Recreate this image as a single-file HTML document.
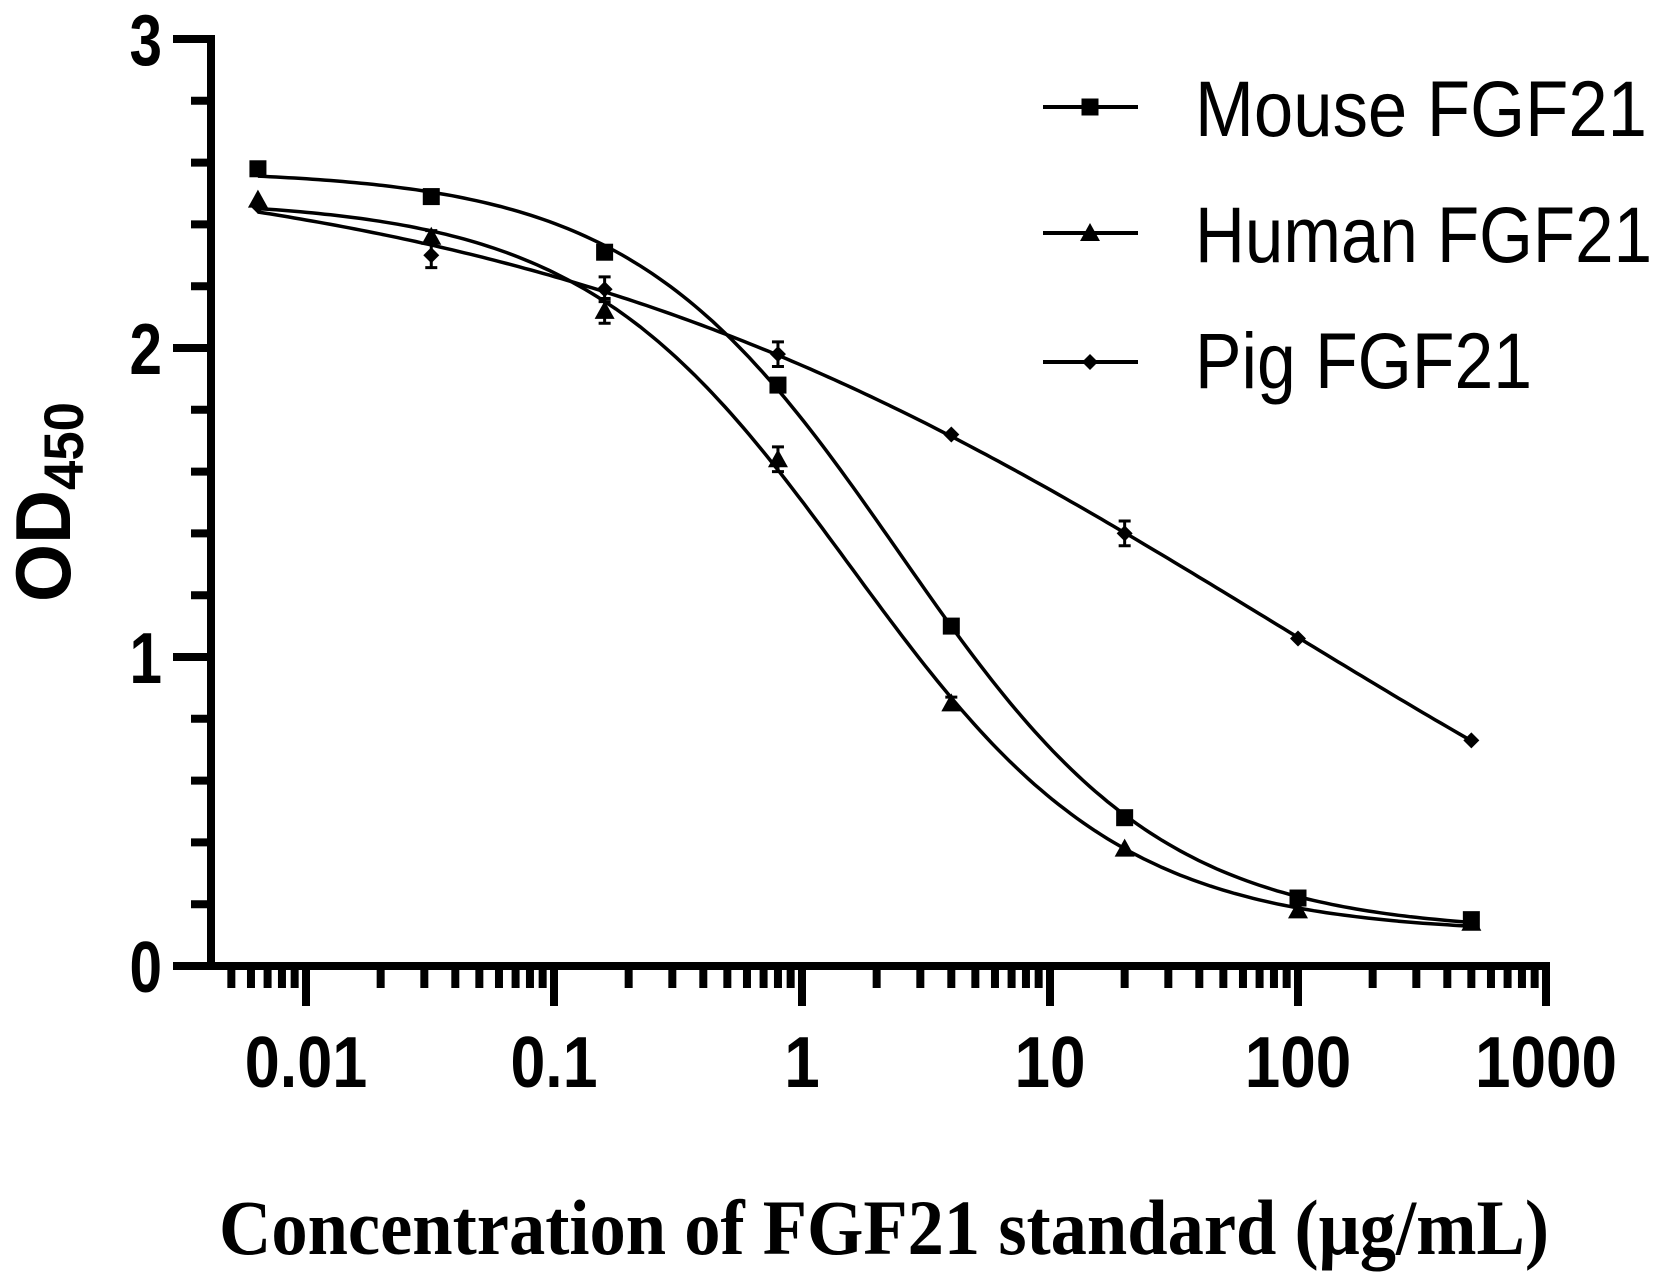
<!DOCTYPE html>
<html><head><meta charset="utf-8"><style>
html,body{margin:0;padding:0;background:#fff}
svg{display:block}
</style></head><body>
<svg id="chart" width="1672" height="1286" viewBox="0 0 1672 1286" xmlns="http://www.w3.org/2000/svg" font-family="'Liberation Sans', sans-serif">
<g id="axes"></g>
<g id="series"></g>
<g id="legend"></g>
</svg>
<script>
const concentrations = [0.0064, 0.032, 0.16, 0.8, 4, 20, 100, 500];
const mouseOD = [2.58, 2.49, 2.31, 1.88, 1.10, 0.48, 0.22, 0.15];
const humanOD = [2.48, 2.36, 2.12, 1.64, 0.85, 0.38, 0.18, 0.14];
const pigOD = [2.46, 2.30, 2.19, 1.98, 1.72, 1.40, 1.06, 0.73];
const mouseErr = [0.01, 0.02, 0.02, 0.02, 0.02, 0.02, 0.01, 0.01];
const humanErr = [0.01, 0.02, 0.04, 0.04, 0.02, 0.01, 0.01, 0.01];
const pigErr = [0.01, 0.04, 0.04, 0.04, 0.01, 0.04, 0.01, 0.01];
const seriesNames = ["Mouse FGF21", "Human FGF21", "Pig FGF21"];
const seriesMarkers = ["square", "triangle", "diamond"];
const yTicks = [0, 1, 2, 3];
const xTickLabels = ["0.01", "0.1", "1", "10", "100", "1000"];
const xTickValues = [0.01, 0.1, 1, 10, 100, 1000];

const NS = "http://www.w3.org/2000/svg";
const X0 = 306, DEC = 248, Y0 = 966, YU = 309;
const AXL = 211, AXR = 1546;
function xs(v){ return X0 + (Math.log10(v) + 2) * DEC; }
function ys(v){ return Y0 - v * YU; }
function mk(tag, attrs, parent){ const e = document.createElementNS(NS, tag); for (const k in attrs) e.setAttribute(k, attrs[k]); parent.appendChild(e); return e; }
function labelWidth(s){ let w = 0; for (const c of s) w += (c === '.') ? 16 : 35.5; return w; }

const axes = document.getElementById('axes');
let yl = mk('line', {x1:AXL, y1:ys(3)-4, x2:AXL, y2:Y0+4, stroke:'#000','stroke-width':8}, axes);


for (let v = 0; v <= 3.0001; v += 0.2) {
  const major = Math.abs(v - Math.round(v)) < 1e-6;
  const t = mk('line', {x1: AXL - (major ? 38 : 20), y1: ys(v), x2: AXL, y2: ys(v), stroke:'#000','stroke-width':8}, axes);
  
  
}
yTicks.forEach(v => {
  const s = String(v);
  const t = mk('text', {x:162, y:ys(v)+26, 'text-anchor':'end', 'font-size':72, 'font-weight':'bold', textLength:labelWidth(s)-3, lengthAdjust:'spacingAndGlyphs'}, axes);
  t.textContent = s;
  
  
});
let xl = mk('line', {x1:AXL-4, y1:Y0, x2:AXR+4, y2:Y0, stroke:'#000','stroke-width':8}, axes);


for (let d = -3; d <= 2; d++) {
  for (let m = 1; m <= 9; m++) {
    const v = m * Math.pow(10, d);
    const px = xs(v);
    if (px < AXL - 1 || px > AXR + 1) continue;
    const major = m === 1;
    const t = mk('line', {x1:px, y1:Y0, x2:px, y2:Y0 + (major ? 40 : 22), stroke:'#000','stroke-width':8}, axes);
    
    
  }
}
{ const t = mk('line', {x1:xs(1000), y1:Y0, x2:xs(1000), y2:Y0+40, stroke:'#000','stroke-width':8}, axes);
  
   }
xTickValues.forEach((v, i) => {
  const s = xTickLabels[i];
  const t = mk('text', {x:xs(v), y:1087, 'text-anchor':'middle', 'font-size':72, 'font-weight':'bold', textLength:labelWidth(s), lengthAdjust:'spacingAndGlyphs'}, axes);
  t.textContent = s;
  
  
});
{ const t = mk('text', {x:884, y:1254, 'text-anchor':'middle', 'font-size':78, 'font-weight':'bold', 'font-family':"'Liberation Serif', serif", textLength:1330, lengthAdjust:'spacingAndGlyphs'}, axes);
  t.textContent = 'Concentration of FGF21 standard (\u03bcg/mL)';
  
   }
{ const t = mk('text', {x:0, y:0, 'font-size':78, 'font-weight':'bold', transform:'translate(70,602) rotate(-90)'}, axes);
  
  
  const a = document.createElementNS(NS, 'tspan'); a.setAttribute('textLength', 112); a.setAttribute('lengthAdjust', 'spacingAndGlyphs'); a.textContent = 'OD'; t.appendChild(a);
  const s = document.createElementNS(NS, 'tspan'); s.setAttribute('font-size', 56); s.setAttribute('dy', 13); s.setAttribute('textLength', 88); s.setAttribute('lengthAdjust', 'spacingAndGlyphs'); s.textContent = '450'; t.appendChild(s); }

// 4PL fit
function f4(p, lx){ return p[1] + (p[0] - p[1]) / (1 + Math.pow(10, (lx - p[2]) * p[3])); }
function fit(data){
  const lxs = concentrations.map(Math.log10);
  const sse = p => { let s = 0; lxs.forEach((lx, i) => { const r = f4(p, lx) - data[i]; s += r*r; }); return s; };
  let p = [data[0] + 0.05, data[data.length-1] - 0.02, 0.3, 0.8];
  let step = [0.2, 0.2, 1, 0.3];
  let best = sse(p);
  for (let it = 0; it < 4000; it++) {
    let improved = false;
    for (let k = 0; k < 4; k++) {
      for (const sgn of [1, -1]) {
        const q = p.slice(); q[k] += sgn * step[k];
        if (q[3] < 0.05) continue;
        const v = sse(q);
        if (v < best) { best = v; p = q; improved = true; }
      }
    }
    if (!improved) { step = step.map(s => s * 0.5); if (step[2] < 1e-6) break; }
  }
  return p;
}

const seriesG = document.getElementById('series');
const allData = [mouseOD, humanOD, pigOD];
const allErr = [mouseErr, humanErr, pigErr];
function marker(type, cx, cy, parent){
  if (type === 'square') { const s = 17; return mk('rect', {x:cx-s/2, y:cy-s/2, width:s, height:s, fill:'#000'}, parent); }
  if (type === 'triangle') { const s = 10; return mk('polygon', {points:`${cx},${cy-s} ${cx+s},${cy+s*0.8} ${cx-s},${cy+s*0.8}`, fill:'#000'}, parent); }
  const s = 8; return mk('polygon', {points:`${cx},${cy-s} ${cx+s},${cy} ${cx},${cy+s} ${cx-s},${cy}`, fill:'#000'}, parent);
}
allData.forEach((data, si) => {
  const g = mk('g', {}, seriesG);
  
  
  const p = fit(data);
  const l0 = Math.log10(concentrations[0]), l1 = Math.log10(concentrations[concentrations.length-1]);
  let d = '';
  for (let i = 0; i <= 200; i++) {
    const lx = l0 + (l1 - l0) * i / 200;
    d += (i ? 'L' : 'M') + xs(Math.pow(10, lx)).toFixed(1) + ',' + ys(f4(p, lx)).toFixed(1);
  }
  const path = mk('path', {d:d, fill:'none', stroke:'#000', 'stroke-width':3.5}, g);
  
  
  data.forEach((v, i) => {
    const cx = xs(concentrations[i]), e = allErr[si][i];
    if (e > 0.015) {
      const eb = mk('path', {d:`M${cx},${ys(v+e)} V${ys(v-e)} M${cx-6},${ys(v+e)} H${cx+6} M${cx-6},${ys(v-e)} H${cx+6}`, stroke:'#000', 'stroke-width':3, fill:'none'}, g);
      
      
    }
    const m = marker(seriesMarkers[si], cx, ys(v), g);
    
    
  });
});

const legend = document.getElementById('legend');
const legY = [107, 233, 362];
const legBase = [136, 262, 388];
const legW = [452, 457, 337];
seriesNames.forEach((name, i) => {
  const g = mk('g', {}, legend);
  
  
  mk('line', {x1:1043, y1:legY[i], x2:1138, y2:legY[i], stroke:'#000', 'stroke-width':4}, g);
  marker(seriesMarkers[i], 1090, legY[i], g);
  const t = mk('text', {x:1195, y:legBase[i], 'font-size':79, textLength:legW[i], lengthAdjust:'spacingAndGlyphs'}, g);
  t.textContent = name;
  
  
});
</script>
</body></html>
